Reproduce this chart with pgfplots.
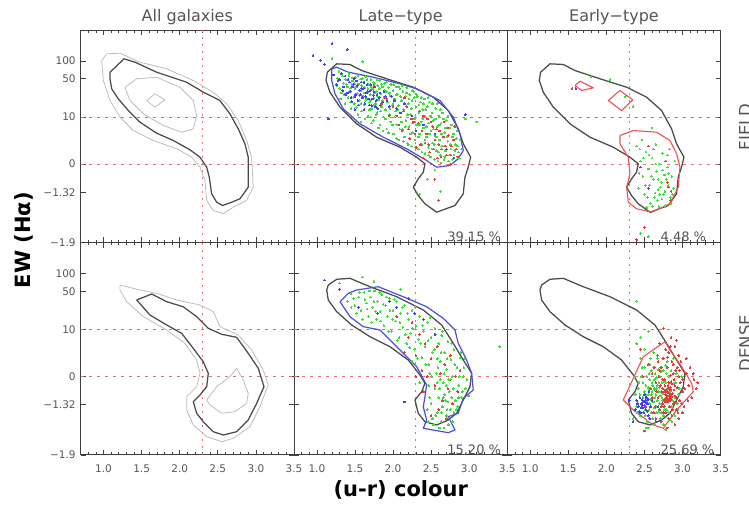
\documentclass[border=0pt]{standalone}
\usepackage{pgfplots}
\pgfplotsset{compat=1.18}
\usepackage{pgfplotstable}
\usepackage{fontspec}
\setmainfont{DejaVu Sans}

\definecolor{frame}{HTML}{404040}
\definecolor{txt}{HTML}{555555}
\definecolor{cblack}{HTML}{4A4A4A}
\definecolor{cgray}{HTML}{BDBDBD}
\definecolor{cblue}{HTML}{4D4DE0}
\definecolor{cred}{HTML}{F05050}
\definecolor{pgreen}{HTML}{3CDC3C}
\definecolor{pblue}{HTML}{4040FF}
\definecolor{pred}{HTML}{E83A3A}
\definecolor{refblue}{HTML}{8080FF}
\definecolor{refred}{HTML}{F07070}

% ---------- contours (x = u-r colour, y = log10(EW+2)) ----------
\pgfplotstableread{
x y
1.085 1.824
1.268 2.046
1.413 1.990
1.697 1.824
2.091 1.658
2.309 1.493
2.528 1.355
2.659 1.134
2.768 0.886
2.856 0.637
2.899 0.415
2.899 -0.083
2.791 -0.275
2.682 -0.332
2.564 -0.386
2.485 -0.332
2.419 -0.192
2.388 0.083
2.354 0.249
2.266 0.415
2.134 0.537
1.915 0.692
1.697 0.813
1.478 0.995
1.325 1.189
1.193 1.383
1.107 1.549
1.085 1.715
1.085 1.824
}\cAFblack
\pgfplotstableread{
x y
0.976 2.018
1.041 2.129
1.216 2.139
1.478 1.990
1.829 1.881
2.178 1.687
2.440 1.493
2.616 1.300
2.768 1.023
2.878 0.692
2.944 0.415
2.965 -0.083
2.878 -0.303
2.703 -0.415
2.571 -0.524
2.440 -0.469
2.354 -0.303
2.331 0.028
2.266 0.249
2.157 0.415
1.960 0.554
1.653 0.692
1.390 0.857
1.216 1.078
1.085 1.355
0.997 1.687
0.976 2.018
}\cAFout
\pgfplotstableread{
x y
1.281 1.575
1.435 1.715
1.697 1.741
2.003 1.575
2.178 1.355
2.222 1.106
2.178 0.886
2.025 0.829
1.784 0.940
1.522 1.134
1.347 1.355
1.281 1.575
}\cAFin
\pgfplotstableread{
x y
1.566 1.355
1.675 1.466
1.806 1.366
1.675 1.244
1.566 1.355
}\cAFcore
\pgfplotstableread{
x y
1.435 1.570
1.632 1.670
1.829 1.542
2.046 1.459
2.222 1.294
2.375 1.101
2.550 1.002
2.747 0.952
2.899 0.687
3.031 0.438
3.106 0.133
3.010 -0.143
2.899 -0.420
2.747 -0.614
2.571 -0.668
2.440 -0.614
2.309 -0.448
2.222 -0.308
2.178 -0.116
2.266 -0.005
2.354 0.133
2.375 0.355
2.309 0.547
2.178 0.769
2.025 1.018
1.829 1.156
1.609 1.322
1.435 1.570
}\cADblack
\pgfplotstableread{
x y
1.216 1.819
1.478 1.736
1.697 1.682
1.960 1.570
2.266 1.488
2.440 1.377
2.528 1.128
2.768 0.990
2.944 0.741
3.096 0.410
3.162 0.161
3.053 -0.199
2.922 -0.531
2.703 -0.723
2.550 -0.779
2.354 -0.697
2.178 -0.502
2.091 -0.254
2.091 -0.033
2.222 0.133
2.266 0.355
2.222 0.575
2.069 0.852
1.829 1.073
1.522 1.294
1.304 1.542
1.216 1.736
1.216 1.819
}\cADout
\pgfplotstableread{
x y
2.354 -0.088
2.485 0.133
2.659 0.299
2.747 0.438
2.834 0.244
2.899 0.023
2.878 -0.143
2.725 -0.282
2.550 -0.308
2.397 -0.171
2.354 -0.088
}\cADin
\pgfplotstableread{
x y
1.137 1.824
1.260 1.963
1.435 1.952
1.588 1.852
1.917 1.715
2.266 1.575
2.528 1.410
2.725 1.189
2.856 0.886
2.922 0.637
3.019 0.415
2.987 0.249
2.944 0.083
2.922 -0.192
2.813 -0.386
2.573 -0.498
2.419 -0.358
2.331 -0.221
2.266 -0.083
2.331 0.056
2.397 0.166
2.419 0.305
2.310 0.415
2.091 0.580
1.785 0.746
1.523 0.968
1.304 1.244
1.172 1.493
1.120 1.687
1.137 1.824
}\cFblack
\pgfplotstableread{
x y
1.195 1.881
1.260 1.907
1.413 1.824
1.741 1.741
2.091 1.632
2.310 1.549
2.616 1.355
2.791 1.078
2.878 0.803
2.922 0.526
2.856 0.388
2.747 0.277
2.573 0.249
2.441 0.360
2.179 0.554
1.872 0.746
1.566 0.968
1.347 1.217
1.238 1.466
1.195 1.687
1.195 1.881
}\cLFblue
\pgfplotstableread{
x y
1.150 1.819
1.260 1.914
1.435 1.930
1.697 1.791
2.048 1.625
2.397 1.405
2.638 1.156
2.791 0.852
2.922 0.575
3.032 0.355
3.010 0.133
2.922 -0.088
2.835 -0.308
2.725 -0.420
2.573 -0.502
2.419 -0.448
2.331 -0.308
2.288 -0.088
2.376 0.050
2.419 0.189
2.354 0.327
2.200 0.575
1.960 0.796
1.697 0.962
1.457 1.156
1.260 1.377
1.150 1.570
1.129 1.736
1.150 1.819
}\cDblack
\pgfplotstableread{
x y
1.304 1.542
1.413 1.682
1.523 1.736
1.806 1.791
2.134 1.625
2.441 1.459
2.659 1.267
2.813 1.073
2.856 0.852
2.966 0.575
3.032 0.355
3.053 0.078
2.922 -0.060
2.856 -0.308
2.725 -0.365
2.813 -0.585
2.725 -0.630
2.397 -0.557
2.441 -0.420
2.397 -0.199
2.419 -0.033
2.441 0.161
2.310 0.464
2.091 0.741
1.829 1.073
1.609 1.128
1.435 1.294
1.304 1.542
}\cLDblue
\pgfplotstableread{
x y
1.588 1.604
1.654 1.675
1.829 1.565
1.676 1.521
1.588 1.604
}\cEFra
\pgfplotstableread{
x y
2.025 1.355
2.179 1.521
2.346 1.366
2.201 1.189
2.025 1.355
}\cEFrb
\pgfplotstableread{
x y
2.179 0.774
2.354 0.857
2.661 0.829
2.835 0.692
2.923 0.471
2.966 0.249
2.944 -0.083
2.835 -0.358
2.595 -0.498
2.398 -0.441
2.288 -0.332
2.267 -0.083
2.310 0.139
2.288 0.415
2.179 0.637
2.179 0.774
}\cEFrc
\pgfplotstableread{
x y
2.222 -0.088
2.485 0.630
2.770 0.879
2.835 0.741
2.989 0.464
3.120 0.189
3.141 0.050
2.923 -0.254
2.747 -0.557
2.616 -0.502
2.354 -0.254
2.222 -0.088
}\cEDred
\pgfplotstableread{
x y
0.7 1.079
3.5 1.079
}\lineTen
\pgfplotstableread{
x y
0.7 0.301
3.5 0.301
}\lineZero
\pgfplotstableread{
x y
2.3 -1
2.3 2.516
}\lineColour

\newcommand{\tickfont}{\fontsize{10.5}{12}\selectfont}
\newcommand{\pctfont}{\fontsize{13}{15}\selectfont}

\pgfplotsset{
  panel/.style={
    scale only axis, width=213.3pt, height=212pt, anchor=south west,
    xmin=0.7, xmax=3.5, ymin=-1, ymax=2.516,
    xtick={1,1.5,2,2.5,3,3.5},
    minor xtick={0.8,0.9,1.1,1.2,1.3,1.4,1.6,1.7,1.8,1.9,2.1,2.2,2.3,2.4,2.6,2.7,2.8,2.9,3.1,3.2,3.3,3.4},
    ytick={-1,-0.167,0.301,1.079,1.716,2.009},
    xticklabels={}, yticklabels={},
    tick align=inside, major tick length=5pt, minor tick length=2.5pt,
    axis line style={frame, line width=1pt},
    every tick/.style={frame, line width=0.7pt},
    tick label style={font=\tickfont, text=txt},
    xticklabel style={yshift=-6.5pt},
    yticklabel style={xshift=-1.5pt},
  },
  leftcol/.style={yticklabels={−1.9,−1.32,0,10,50,100}},
  botrow/.style={xticklabels={1.0,1.5,2.0,2.5,3.0,3.5}},
  blk/.style={cblack, line width=1.25pt, line join=round},
  gry/.style={cgray, line width=0.8pt, line join=round},
  blu/.style={cblue, line width=1.2pt, line join=round},
  rdc/.style={cred, line width=1.1pt, line join=round},
  dots/.style={only marks, mark=*, mark size=0.85pt, mark options={line width=0pt}},
}
\newcommand{\reflines}{%
  \addplot[forget plot, draw=refred, line width=0.8pt, dash pattern=on 2pt off 5pt] table {\lineColour};
  \addplot[forget plot, draw=refblue, line width=1pt, dash pattern=on 3pt off 5pt] table {\lineTen};
  \addplot[forget plot, draw=refred, line width=0.8pt, dash pattern=on 3pt off 5pt] table {\lineZero};
}

\begin{document}
\begin{tikzpicture}
\useasboundingbox (0,0) rectangle (749pt,505pt);

% ================= Top row: FIELD =================
\begin{axis}[panel, leftcol, at={(80.7pt,262.5pt)}]
\reflines
\addplot[gry] table {\cAFout};
\addplot[gry] table {\cAFin};
\addplot[gry] table {\cAFcore};
\addplot[blk] table {\cAFblack};
\end{axis}

\begin{axis}[panel, at={(294pt,262.5pt)}]
\reflines
\addplot[dots, pgreen] coordinates {
(1.27,1.72)(1.30,1.55)(1.33,1.80)(1.35,1.64)(1.36,1.45)(1.38,1.70)(1.40,1.58)(1.31,1.38)
(1.42,1.76)(1.43,1.50)(1.44,1.33)(1.46,1.62)(1.47,1.68)(1.48,1.41)(1.50,1.55)(1.51,1.74)(1.52,1.24)(1.53,1.47)(1.55,1.63)(1.56,1.36)(1.57,1.71)(1.58,1.52)(1.59,1.18)(1.60,1.43)
(1.61,1.66)(1.62,1.29)(1.63,1.57)(1.64,1.75)(1.65,1.39)(1.66,1.50)(1.67,1.10)(1.68,1.62)(1.69,1.33)(1.70,1.45)(1.71,1.70)(1.72,1.22)(1.73,1.55)(1.74,1.02)(1.75,1.40)(1.76,1.64)(1.77,1.30)(1.78,1.50)(1.79,1.16)(1.80,1.60)
(1.81,1.37)(1.82,1.69)(1.83,0.95)(1.84,1.47)(1.85,1.25)(1.86,1.58)(1.87,1.08)(1.88,1.40)(1.89,1.64)(1.90,1.20)(1.91,1.50)(1.92,0.88)(1.93,1.33)(1.94,1.57)(1.95,1.12)(1.96,1.44)(1.97,1.00)(1.98,1.62)(1.99,1.28)(2.00,1.52)
(2.01,0.80)(2.02,1.38)(2.03,1.18)(2.04,1.58)(2.05,0.95)(2.06,1.46)(2.07,1.27)(2.08,0.70)(2.09,1.55)(2.10,1.08)(2.11,1.35)(2.12,0.88)(2.13,1.50)(2.14,1.20)(2.15,0.75)(2.16,1.42)(2.17,1.02)(2.18,1.57)(2.19,0.65)(2.20,1.30)
(2.21,0.92)(2.22,1.45)(2.23,1.12)(2.24,0.60)(2.25,1.35)(2.26,0.82)(2.27,1.50)(2.28,1.05)(2.29,0.70)(2.30,1.25)(2.31,0.95)(2.32,1.42)(2.33,0.55)(2.34,1.15)(2.35,0.80)(2.36,1.33)(2.37,1.00)(2.38,0.62)(2.39,1.20)(2.40,0.90)
(2.41,1.38)(2.42,0.48)(2.43,1.08)(2.44,0.75)(2.45,1.25)(2.46,0.58)(2.47,0.98)(2.48,1.33)(2.49,0.42)(2.50,0.85)(2.51,1.15)(2.52,0.65)(2.53,1.02)(2.54,0.38)(2.55,0.78)(2.56,1.22)(2.57,0.52)(2.58,0.92)(2.59,0.35)(2.60,1.10)
(2.61,0.70)(2.62,0.45)(2.63,0.98)(2.64,0.60)(2.65,1.15)(2.67,0.38)(2.68,0.82)(2.69,0.52)(2.70,1.02)(2.72,0.68)(2.73,0.35)(2.74,0.90)(2.76,0.55)(2.78,0.75)(2.80,0.45)(2.82,0.62)(2.84,0.85)(2.86,0.50)(2.88,0.70)
(2.45,0.05)(2.62,-0.15)(2.55,0.20)(2.95,1.05)(3.10,1.00)(1.60,2.00)(1.20,2.05)(2.35,-0.20)
(1.26,1.60)(1.29,1.84)(1.32,1.48)(1.34,1.76)(1.37,1.30)(1.39,1.62)(1.41,1.40)(1.42,1.80)(1.44,1.56)(1.45,1.22)(1.47,1.73)(1.49,1.30)(1.50,1.64)(1.52,1.58)(1.54,1.12)(1.54,1.77)(1.56,1.44)(1.58,1.30)(1.59,1.60)(1.60,1.72)
(1.62,1.48)(1.63,1.05)(1.64,1.36)(1.66,1.70)(1.67,1.55)(1.69,1.20)(1.70,1.35)(1.71,1.58)(1.72,0.98)(1.74,1.66)(1.75,1.28)(1.76,1.48)(1.78,1.12)(1.79,1.70)(1.80,1.42)(1.81,0.90)(1.82,1.55)(1.84,1.18)(1.85,1.62)(1.86,1.35)
(1.87,0.85)(1.89,1.52)(1.90,1.05)(1.91,1.66)(1.92,1.38)(1.94,0.82)(1.95,1.48)(1.96,1.22)(1.97,1.62)(1.99,0.95)(2.00,1.30)(2.01,1.62)(2.02,1.08)(2.04,1.45)(2.05,0.72)(2.06,1.20)(2.07,1.58)(2.09,0.88)(2.10,1.42)(2.11,1.00)
(2.12,1.60)(2.14,0.68)(2.15,1.30)(2.16,0.92)(2.18,1.48)(2.19,1.12)(2.20,0.62)(2.21,1.38)(2.23,0.80)(2.24,1.22)(2.25,1.52)(2.26,0.98)(2.28,1.40)(2.29,0.58)(2.30,1.08)(2.31,1.45)(2.33,0.75)(2.34,1.28)(2.35,0.95)(2.37,1.40)
(2.38,0.50)(2.39,1.05)(2.40,1.30)(2.42,0.70)(2.43,1.20)(2.44,0.92)(2.46,1.40)(2.47,0.45)(2.48,0.80)(2.49,1.10)(2.51,0.55)(2.52,1.30)(2.53,0.88)(2.54,0.62)(2.56,1.05)(2.57,0.75)(2.58,1.30)(2.60,0.50)(2.61,0.95)(2.62,1.20)
(2.63,0.32)(2.64,0.80)(2.66,1.05)(2.67,0.60)(2.68,0.42)(2.69,0.90)(2.71,0.75)(2.72,1.10)(2.74,0.45)(2.75,0.62)(2.77,0.95)(2.78,0.38)(2.79,0.80)(2.81,0.52)(2.83,0.72)(2.85,0.60)(2.87,0.40)(2.90,0.55)(1.70,1.08)(1.58,1.00)
};
\addplot[dots, pblue] coordinates {
(1.22,1.78)(1.26,1.62)(1.30,1.70)(1.34,1.52)(1.37,1.76)(1.40,1.48)(1.43,1.66)(1.45,1.40)(1.47,1.58)(1.49,1.72)(1.51,1.45)(1.53,1.60)(1.54,1.35)(1.56,1.52)(1.58,1.66)(1.60,1.40)(1.61,1.55)(1.63,1.30)(1.65,1.48)(1.66,1.62)(1.68,1.38)(1.70,1.52)(1.72,1.27)(1.74,1.44)(1.76,1.58)(1.78,1.35)(1.80,1.22)(1.83,1.48)(1.86,1.32)(1.90,1.42)(1.95,1.25)(2.02,1.35)(2.10,1.15)(2.25,1.10)(2.40,0.95)(2.55,0.80)(2.70,0.55)
(0.95,2.10)(1.05,2.02)(1.20,2.30)(1.40,2.20)(1.15,1.05)(2.95,1.12)(2.80,0.40)(1.10,1.95)
(1.28,1.68)(1.32,1.80)(1.35,1.58)(1.38,1.45)(1.41,1.70)(1.44,1.50)(1.46,1.34)(1.48,1.62)(1.50,1.42)(1.52,1.68)(1.55,1.28)(1.57,1.45)(1.59,1.55)(1.62,1.65)(1.64,1.42)(1.67,1.50)(1.69,1.28)(1.71,1.62)(1.73,1.38)(1.75,1.50)
(1.77,1.25)(1.79,1.45)(1.82,1.40)(1.84,1.28)(1.88,1.50)(1.92,1.35)(1.98,1.42)(2.05,1.22)(2.15,1.30)(2.30,0.85)(1.62,1.20)(1.50,1.20)
};
\addplot[dots, pred] coordinates {
(2.05,1.10)(2.12,0.85)(2.18,1.25)(2.22,0.72)(2.27,1.00)(2.31,0.58)(2.35,1.18)(2.38,0.85)(2.42,0.65)(2.45,1.05)(2.48,0.50)(2.52,0.92)(2.55,0.70)(2.58,0.40)(2.61,0.85)(2.64,0.55)(2.67,1.00)(2.70,0.45)(2.73,0.78)(2.77,0.60)(2.81,0.92)(2.85,0.42)(1.85,1.30)(1.95,1.10)(2.15,1.40)(2.55,0.05)(2.60,-0.30)(2.75,0.30)(1.75,1.60)(2.40,0.40)
(2.08,0.95)(2.14,1.18)(2.20,0.88)(2.24,1.05)(2.29,0.80)(2.33,0.98)(2.36,0.62)(2.40,1.10)(2.44,0.80)(2.47,0.62)(2.50,1.00)(2.53,0.55)(2.57,0.88)(2.60,0.62)(2.63,0.42)(2.66,0.75)(2.69,0.60)(2.72,0.90)(2.76,0.45)(2.79,0.70)(2.83,0.55)(2.00,1.25)(1.90,1.40)
};
\addplot[blk] table {\cFblack};
\addplot[blu] table {\cLFblue};
\node[anchor=base west, inner sep=0, font=\pctfont, text=txt] at (axis cs:2.71,-0.985) {39.15 \%};
\end{axis}

\begin{axis}[panel, at={(507.3pt,262.5pt)}]
\reflines
\addplot[dots, pgreen] coordinates {
(2.40,0.60)(2.45,0.35)(2.48,0.10)(2.50,-0.20)(2.52,0.50)(2.55,0.22)(2.57,-0.05)(2.58,-0.35)(2.60,0.40)(2.62,0.05)(2.63,-0.25)(2.65,0.62)(2.66,0.18)(2.68,-0.12)(2.69,-0.40)(2.70,0.30)(2.72,0.00)(2.73,-0.28)(2.74,0.48)(2.76,0.12)(2.77,-0.15)(2.78,-0.38)(2.80,0.25)(2.81,-0.05)(2.83,0.55)(2.84,-0.25)(2.86,0.10)(2.88,-0.10)(2.90,0.35)(2.42,-0.10)(2.44,0.55)(2.53,-0.42)(2.67,-0.30)(2.75,-0.20)(2.79,0.05)(2.71,-0.08)(2.64,-0.18)(2.85,-0.35)(2.47,0.70)
(2.05,1.70)(1.80,1.75)(2.25,1.42)(2.60,0.90)(2.45,-0.85)(2.55,-0.90)(2.35,1.25)
(2.43,0.15)(2.49,0.40)(2.51,-0.05)(2.56,0.45)(2.59,0.10)(2.61,-0.40)(2.65,0.30)(2.70,-0.20)(2.74,0.20)(2.77,-0.40)(2.82,0.15)(2.87,-0.20)(2.80,0.45)(2.62,0.55)(2.54,-0.25)(2.68,0.05)
};
\addplot[dots, pblue] coordinates {(2.55,-0.10)(1.60,1.55)(2.45,0.25)};
\addplot[dots, pred] coordinates {
(2.82,-0.08)(2.85,-0.15)(2.80,0.00)(2.78,0.35)(2.84,-0.30)(2.55,0.60)(1.55,1.55)(2.40,-0.95)(2.50,-0.75)
};
\addplot[blk] table {\cFblack};
\addplot[rdc] table {\cEFra};
\addplot[rdc] table {\cEFrb};
\addplot[rdc] table {\cEFrc};
\node[anchor=base west, inner sep=0, font=\pctfont, text=txt] at (axis cs:2.71,-0.985) {4.48 \%};
\end{axis}

% ================= Bottom row: DENSE =================
\begin{axis}[panel, leftcol, botrow, at={(80.7pt,50pt)}]
\reflines
\addplot[gry] table {\cADout};
\addplot[gry] table {\cADin};
\addplot[blk] table {\cADblack};
\end{axis}

\begin{axis}[panel, botrow, at={(294pt,50pt)}]
\reflines
\addplot[dots, pgreen] coordinates {
(1.40,1.55)(1.45,1.68)(1.50,1.48)(1.55,1.62)(1.58,1.40)(1.62,1.70)(1.65,1.52)(1.68,1.30)(1.70,1.62)(1.73,1.45)(1.76,1.72)(1.78,1.25)(1.80,1.55)(1.83,1.38)(1.85,1.66)(1.88,1.15)(1.90,1.48)(1.93,1.30)(1.95,1.60)(1.98,1.05)
(2.00,1.40)(2.03,1.22)(2.05,1.55)(2.08,0.95)(2.10,1.35)(2.13,1.12)(2.15,1.48)(2.18,0.85)(2.20,1.25)(2.23,1.02)(2.25,1.40)(2.28,0.75)(2.30,1.15)(2.33,0.92)(2.35,1.30)(2.38,0.62)(2.40,1.05)(2.42,0.80)(2.45,1.20)(2.47,0.50)
(2.50,0.95)(2.52,0.70)(2.55,1.10)(2.57,0.35)(2.60,0.85)(2.62,0.55)(2.64,0.98)(2.66,0.20)(2.68,0.70)(2.70,0.42)(2.72,0.88)(2.74,0.05)(2.76,0.58)(2.78,0.30)(2.80,0.75)(2.82,-0.10)(2.84,0.45)(2.86,0.15)(2.88,0.62)(2.90,-0.05)
(2.92,0.30)(2.95,0.10)(2.50,-0.15)(2.55,0.10)(2.58,-0.30)(2.60,-0.05)(2.63,-0.45)(2.65,-0.20)(2.68,0.00)(2.70,-0.35)(2.72,-0.12)(2.75,-0.25)(2.78,-0.45)(2.80,-0.30)(2.52,-0.40)(2.47,0.15)(2.45,-0.25)(2.48,0.35)(2.62,0.25)(2.58,0.60)
(2.70,0.15)(2.75,0.25)(2.85,-0.20)(2.53,-0.50)(2.67,-0.55)(1.60,1.95)(1.75,1.88)(2.10,1.75)(3.40,0.80)(2.25,0.55)(2.35,0.20)(1.30,1.85)
(1.45,1.45)(1.48,1.60)(1.52,1.35)(1.56,1.70)(1.60,1.25)(1.63,1.58)(1.66,1.42)(1.69,1.72)(1.72,1.20)(1.75,1.55)(1.77,1.38)(1.82,1.70)(1.84,1.22)(1.87,1.50)(1.91,1.62)(1.94,1.05)(1.96,1.40)(1.99,1.25)(2.02,1.58)(2.06,0.90)
(2.09,1.20)(2.12,1.45)(2.16,1.00)(2.19,1.35)(2.22,0.78)(2.26,1.10)(2.29,1.45)(2.32,0.60)(2.36,0.85)(2.39,1.15)(2.43,0.50)(2.46,0.90)(2.49,1.28)(2.51,0.30)(2.54,0.75)(2.56,1.00)(2.59,0.45)(2.61,0.10)(2.63,0.70)(2.65,1.05)
(2.67,0.35)(2.69,-0.10)(2.71,0.60)(2.73,0.25)(2.77,0.85)(2.79,0.10)(2.81,0.50)(2.83,-0.25)(2.87,0.30)(2.89,0.70)(2.91,0.05)(2.93,0.45)(2.97,0.25)(2.99,-0.02)(2.56,-0.35)(2.61,-0.55)(2.66,-0.05)(2.73,-0.50)(2.77,-0.05)(2.48,-0.05)
(2.46,-0.45)(2.58,0.20)(2.64,-0.30)(2.86,-0.05)(2.94,0.60)(2.71,-0.25)
};
\addplot[dots, pblue] coordinates {
(1.10,1.90)(1.30,1.75)(1.55,1.45)(1.80,1.35)(1.95,1.55)(2.05,1.45)(2.20,1.60)(2.28,1.35)(2.15,-0.12)(2.55,1.00)(2.40,1.25)
};
\addplot[dots, pred] coordinates {
(2.20,0.95)(2.25,1.20)(2.30,0.65)(2.35,1.00)(2.38,0.40)(2.42,0.85)(2.45,0.30)(2.50,0.60)(2.55,0.15)(2.58,0.80)(2.62,0.35)(2.65,-0.10)(2.68,0.50)(2.72,0.10)(2.75,0.65)(2.78,-0.15)(2.82,0.30)(2.85,0.05)(2.70,-0.40)(2.60,-0.25)(2.40,0.05)(2.30,0.30)(2.15,0.70)(2.05,1.30)(2.88,0.40)(2.50,-0.35)
};
\addplot[blk] table {\cDblack};
\addplot[blu] table {\cLDblue};
\node[anchor=base west, inner sep=0, font=\pctfont, text=txt] at (axis cs:2.71,-0.985) {15.20 \%};
\end{axis}

\begin{axis}[panel, botrow, at={(507.3pt,50pt)}]
\reflines
\addplot[dots, pgreen] coordinates {
(2.40,-0.20)(2.42,0.10)(2.45,-0.35)(2.46,0.30)(2.48,-0.05)(2.50,0.45)(2.51,-0.25)(2.52,0.15)(2.54,-0.45)(2.55,0.00)(2.56,0.35)(2.57,-0.15)(2.58,0.60)(2.59,-0.30)(2.60,0.20)(2.61,-0.05)(2.62,0.45)(2.63,-0.22)(2.64,0.08)(2.65,-0.40)
(2.66,0.28)(2.67,-0.10)(2.68,0.55)(2.69,-0.28)(2.70,0.12)(2.71,-0.02)(2.72,0.38)(2.73,-0.18)(2.74,0.02)(2.75,-0.35)(2.76,0.22)(2.77,-0.08)(2.78,0.48)(2.79,-0.25)(2.80,0.10)(2.81,-0.12)(2.82,0.30)(2.83,-0.42)(2.84,0.05)(2.86,-0.20)
(2.88,0.18)(2.90,-0.05)(2.92,0.35)(2.94,-0.25)(2.96,0.10)(2.60,0.05)(2.62,-0.12)(2.65,0.00)(2.67,0.15)(2.68,-0.05)(2.70,-0.15)(2.72,0.05)(2.74,-0.10)(2.66,-0.20)(2.63,0.10)(2.58,-0.08)(2.55,0.12)(2.53,-0.10)(2.50,0.05)(2.47,-0.15)
(2.44,0.00)(2.70,0.30)(2.75,0.40)(2.78,0.20)(2.72,-0.30)(2.64,0.35)(2.57,0.25)(2.85,0.40)(2.88,0.60)(2.62,0.70)(2.45,0.60)(2.38,0.00)(2.55,-0.55)(2.75,-0.50)(2.90,-0.35)(2.68,0.42)(2.40,0.85)(2.50,0.75)(2.35,-0.40)(2.78,-0.58)
(2.40,1.55)(2.55,1.05)(2.45,0.95)
(2.48,0.20)(2.51,-0.35)(2.53,0.30)(2.56,-0.25)(2.59,0.40)(2.61,-0.40)(2.63,0.25)(2.66,-0.30)(2.69,0.05)(2.71,-0.40)(2.73,0.20)(2.76,-0.25)(2.79,0.35)(2.82,-0.30)(2.85,0.20)(2.87,-0.10)(2.91,0.20)(2.93,-0.15)(2.59,0.00)(2.61,0.15)
(2.64,-0.05)(2.69,0.20)(2.73,-0.05)(2.66,0.10)(2.56,0.08)(2.52,0.00)(2.43,0.20)(2.41,-0.30)(2.37,0.30)(2.47,0.45)(2.57,0.50)(2.67,0.60)(2.80,0.55)(2.95,0.00)(2.99,0.30)(2.52,-0.55)(2.63,-0.50)(2.86,-0.45)(2.74,0.60)(2.71,0.45)
};
\addplot[dots, pblue] coordinates {
(2.38,-0.25)(2.40,-0.10)(2.42,-0.20)(2.44,-0.05)(2.45,-0.30)(2.46,-0.15)(2.47,-0.08)(2.48,-0.22)(2.49,-0.12)(2.50,-0.18)(2.50,0.00)(2.51,-0.10)(2.52,-0.25)(2.53,-0.05)(2.54,-0.15)(2.55,-0.35)(2.56,0.05)(2.58,-0.20)(2.60,-0.10)(2.62,-0.30)(2.65,-0.45)(2.35,-0.45)(2.30,-0.10)(2.57,-0.40)(2.68,-0.20)
(2.41,-0.15)(2.43,-0.28)(2.46,-0.22)(2.48,-0.10)(2.49,-0.30)(2.51,-0.20)(2.52,-0.05)(2.54,-0.28)(2.55,-0.08)(2.47,-0.18)(2.53,-0.15)(2.50,-0.12)
};
\addplot[dots, pred] coordinates {
(2.65,0.20)(2.68,-0.05)(2.70,0.40)(2.72,-0.20)(2.74,0.10)(2.75,0.60)(2.76,-0.08)(2.77,0.25)(2.78,-0.30)(2.79,0.05)(2.80,0.45)(2.80,-0.12)(2.81,0.15)(2.82,-0.02)(2.82,0.70)(2.83,-0.20)(2.84,0.08)(2.84,0.32)(2.85,-0.08)(2.86,0.18)
(2.86,-0.35)(2.87,0.02)(2.88,0.50)(2.88,-0.15)(2.89,0.25)(2.90,-0.02)(2.91,0.40)(2.92,-0.25)(2.93,0.12)(2.95,0.30)(2.96,-0.10)(2.98,0.55)(3.00,0.05)(3.02,-0.20)(3.05,0.35)(3.08,0.15)(3.12,-0.05)(3.15,0.25)(3.18,0.10)(2.78,0.00)
(2.79,-0.05)(2.81,-0.08)(2.83,0.02)(2.80,0.05)(2.77,-0.12)(2.84,-0.05)(2.76,0.05)(2.82,0.10)(2.85,0.00)(2.74,-0.15)(2.60,0.35)(2.62,-0.30)(2.58,0.10)(2.55,0.50)(2.70,0.85)(2.90,0.80)(2.95,0.65)(2.85,0.95)(2.65,-0.40)(2.72,-0.45)
(2.95,-0.40)(3.00,-0.30)(2.90,-0.50)(2.52,-0.20)(2.48,0.30)(2.68,0.55)(2.92,0.90)(3.05,0.60)(3.10,0.45)(2.75,1.10)(2.45,0.75)(2.80,-0.55)(2.50,-0.60)
(2.78,0.08)(2.80,-0.02)(2.81,0.03)(2.83,-0.10)(2.84,0.12)(2.86,-0.03)(2.79,-0.10)(2.82,0.20)(2.77,0.15)(2.85,0.22)(2.87,-0.25)(2.89,0.08)(2.90,0.15)(2.91,-0.12)(2.76,-0.20)(2.74,0.25)(2.73,0.05)(2.71,0.15)(2.69,0.30)(2.93,0.45)
(2.97,0.20)(2.99,-0.15)(3.03,0.10)(2.88,0.35)(2.86,0.55)(2.80,0.62)(2.72,0.45)(2.66,0.05)(2.64,-0.20)(2.70,-0.25)(2.75,-0.30)(2.82,-0.40)(2.92,-0.05)(2.94,-0.30)(2.96,0.40)(3.00,0.25)(3.07,-0.10)(3.14,0.35)(2.63,0.45)(2.67,0.65)
(2.60,-0.05)(2.84,0.80)(2.78,0.75)(3.20,0.20)
};
\addplot[blk] table {\cDblack};
\addplot[rdc] table {\cEDred};
\node[anchor=base west, inner sep=0, font=\pctfont, text=txt] at (axis cs:2.71,-0.985) {25.69 \%};
\end{axis}

% ================= titles and labels =================
\node[anchor=base, font=\fontsize{16}{18}\selectfont, text=txt] at (187.3pt,483.5pt) {All galaxies};
\node[anchor=base, font=\fontsize{16}{18}\selectfont, text=txt] at (400.7pt,483.5pt) {Late−type};
\node[anchor=base, font=\fontsize{16}{18}\selectfont, text=txt] at (614pt,483.5pt) {Early−type};
\node[rotate=90, anchor=north, inner sep=0, font=\fontsize{16.5}{18}\selectfont, text=txt] at (739pt,378pt) {FIELD};
\node[rotate=90, anchor=north, inner sep=0, font=\fontsize{16.5}{18}\selectfont, text=txt] at (739pt,162pt) {DENSE};
\node[rotate=90, anchor=base, font=\bfseries\fontsize{21}{24}\selectfont] at (31pt,265pt) {EW (Hα)};
\node[anchor=base, font=\bfseries\fontsize{21}{24}\selectfont] at (400.7pt,8pt) {(u-r) colour};
\end{tikzpicture}
\end{document}
